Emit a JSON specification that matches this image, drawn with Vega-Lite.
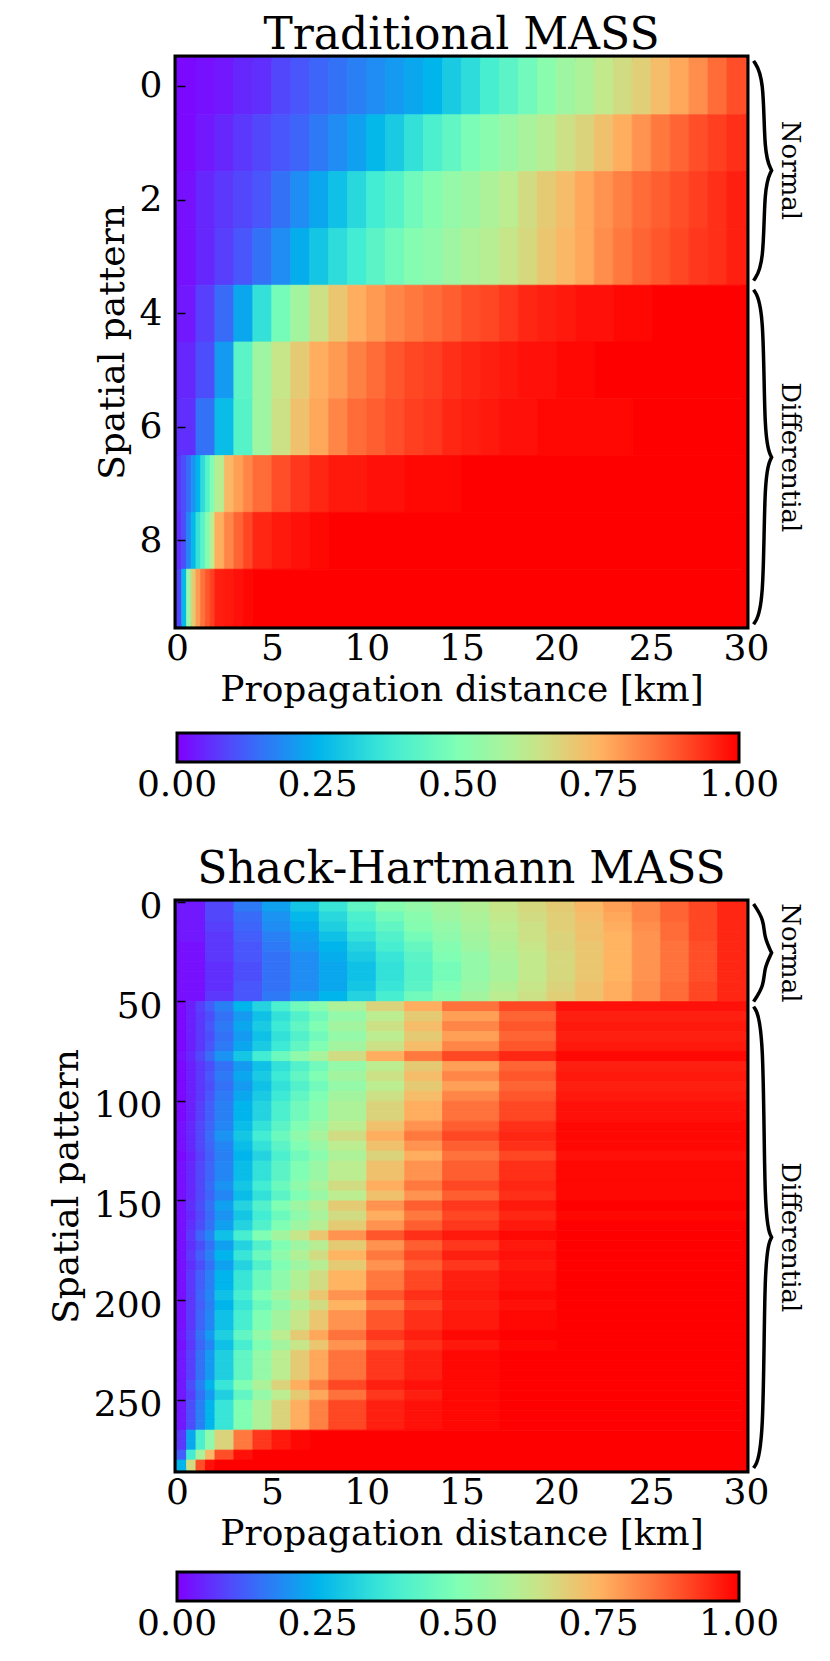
{
  "$schema": "https://vega.github.io/schema/vega-lite/v6.json",
  "background": "white",
  "padding": {"left": 44, "top": 10, "right": 5, "bottom": 5},
  "spacing": 37,
  "config": {
    "font": "DejaVu Serif",
    "view": {"stroke": "black", "strokeWidth": 7},
    "axis": {
      "labelFont": "DejaVu Serif", "labelFontSize": 36, "labelColor": "black",
      "titleFont": "DejaVu Serif", "titleFontSize": 36, "titleFontWeight": "normal", "titleColor": "black",
      "domain": false, "grid": false, "tickColor": "black", "tickWidth": 1.5, "tickSize": -8
    },
    "style": {"guide-title": {"font": "DejaVu Serif", "fontWeight": "normal"}, "guide-label": {"font": "DejaVu Serif"}},
    "title": {"font": "DejaVu Serif", "fontSize": 44, "fontWeight": "normal", "color": "black", "baseline": "alphabetic", "offset": -4}
  },
  "datasets": {
    "trad": [
      {"r":0,"a":0,"b":1,"v":0.01},{"r":0,"a":1,"b":2,"v":0.02},{"r":0,"a":2,"b":3,"v":0.03},{"r":0,"a":3,"b":4,"v":0.05},{"r":0,"a":4,"b":5,"v":0.06},{"r":0,"a":5,"b":6,"v":0.09},{"r":0,"a":6,"b":7,"v":0.11},{"r":0,"a":7,"b":8,"v":0.13},{"r":0,"a":8,"b":9,"v":0.15},{"r":0,"a":9,"b":10,"v":0.17},{"r":0,"a":10,"b":11,"v":0.19},{"r":0,"a":11,"b":12,"v":0.21},{"r":0,"a":12,"b":13,"v":0.23},{"r":0,"a":13,"b":14,"v":0.25},{"r":0,"a":14,"b":15,"v":0.3},{"r":0,"a":15,"b":16,"v":0.34},{"r":0,"a":16,"b":17,"v":0.39},{"r":0,"a":17,"b":18,"v":0.43},{"r":0,"a":18,"b":19,"v":0.47},{"r":0,"a":19,"b":20,"v":0.52},{"r":0,"a":20,"b":21,"v":0.56},{"r":0,"a":21,"b":22,"v":0.59},{"r":0,"a":22,"b":23,"v":0.63},{"r":0,"a":23,"b":24,"v":0.66},{"r":0,"a":24,"b":25,"v":0.69},{"r":0,"a":25,"b":26,"v":0.73},{"r":0,"a":26,"b":27,"v":0.77},{"r":0,"a":27,"b":28,"v":0.81},{"r":0,"a":28,"b":29,"v":0.86},{"r":0,"a":29,"b":30,"v":0.9},
      {"r":1,"a":0,"b":1,"v":0.01},{"r":1,"a":1,"b":2,"v":0.03},{"r":1,"a":2,"b":3,"v":0.05},{"r":1,"a":3,"b":4,"v":0.07},{"r":1,"a":4,"b":5,"v":0.09},{"r":1,"a":5,"b":6,"v":0.11},{"r":1,"a":6,"b":7,"v":0.13},{"r":1,"a":7,"b":8,"v":0.16},{"r":1,"a":8,"b":9,"v":0.19},{"r":1,"a":9,"b":10,"v":0.22},{"r":1,"a":10,"b":11,"v":0.26},{"r":1,"a":11,"b":12,"v":0.3},{"r":1,"a":12,"b":13,"v":0.35},{"r":1,"a":13,"b":14,"v":0.4},{"r":1,"a":14,"b":15,"v":0.44},{"r":1,"a":15,"b":16,"v":0.49},{"r":1,"a":16,"b":17,"v":0.52},{"r":1,"a":17,"b":18,"v":0.55},{"r":1,"a":18,"b":19,"v":0.58},{"r":1,"a":19,"b":20,"v":0.61},{"r":1,"a":20,"b":21,"v":0.65},{"r":1,"a":21,"b":22,"v":0.68},{"r":1,"a":22,"b":23,"v":0.72},{"r":1,"a":23,"b":24,"v":0.76},{"r":1,"a":24,"b":25,"v":0.8},{"r":1,"a":25,"b":26,"v":0.84},{"r":1,"a":26,"b":27,"v":0.87},{"r":1,"a":27,"b":28,"v":0.9},{"r":1,"a":28,"b":29,"v":0.92},{"r":1,"a":29,"b":30,"v":0.94},
      {"r":2,"a":0,"b":1,"v":0.02},{"r":2,"a":1,"b":2,"v":0.05},{"r":2,"a":2,"b":3,"v":0.07},{"r":2,"a":3,"b":4,"v":0.09},{"r":2,"a":4,"b":5,"v":0.11},{"r":2,"a":5,"b":6,"v":0.15},{"r":2,"a":6,"b":7,"v":0.19},{"r":2,"a":7,"b":8,"v":0.23},{"r":2,"a":8,"b":9,"v":0.28},{"r":2,"a":9,"b":10,"v":0.33},{"r":2,"a":10,"b":11,"v":0.38},{"r":2,"a":11,"b":12,"v":0.42},{"r":2,"a":12,"b":13,"v":0.47},{"r":2,"a":13,"b":14,"v":0.51},{"r":2,"a":14,"b":15,"v":0.54},{"r":2,"a":15,"b":16,"v":0.56},{"r":2,"a":16,"b":17,"v":0.59},{"r":2,"a":17,"b":18,"v":0.62},{"r":2,"a":18,"b":19,"v":0.66},{"r":2,"a":19,"b":20,"v":0.7},{"r":2,"a":20,"b":21,"v":0.73},{"r":2,"a":21,"b":22,"v":0.77},{"r":2,"a":22,"b":23,"v":0.8},{"r":2,"a":23,"b":24,"v":0.83},{"r":2,"a":24,"b":25,"v":0.86},{"r":2,"a":25,"b":26,"v":0.88},{"r":2,"a":26,"b":27,"v":0.9},{"r":2,"a":27,"b":28,"v":0.92},{"r":2,"a":28,"b":29,"v":0.94},{"r":2,"a":29,"b":30,"v":0.96},
      {"r":3,"a":0,"b":1,"v":0.02},{"r":3,"a":1,"b":2,"v":0.05},{"r":3,"a":2,"b":3,"v":0.08},{"r":3,"a":3,"b":4,"v":0.11},{"r":3,"a":4,"b":5,"v":0.15},{"r":3,"a":5,"b":6,"v":0.19},{"r":3,"a":6,"b":7,"v":0.24},{"r":3,"a":7,"b":8,"v":0.29},{"r":3,"a":8,"b":9,"v":0.34},{"r":3,"a":9,"b":10,"v":0.38},{"r":3,"a":10,"b":11,"v":0.43},{"r":3,"a":11,"b":12,"v":0.47},{"r":3,"a":12,"b":13,"v":0.51},{"r":3,"a":13,"b":14,"v":0.53},{"r":3,"a":14,"b":15,"v":0.56},{"r":3,"a":15,"b":16,"v":0.59},{"r":3,"a":16,"b":17,"v":0.61},{"r":3,"a":17,"b":18,"v":0.64},{"r":3,"a":18,"b":19,"v":0.67},{"r":3,"a":19,"b":20,"v":0.71},{"r":3,"a":20,"b":21,"v":0.74},{"r":3,"a":21,"b":22,"v":0.77},{"r":3,"a":22,"b":23,"v":0.81},{"r":3,"a":23,"b":24,"v":0.84},{"r":3,"a":24,"b":25,"v":0.87},{"r":3,"a":25,"b":26,"v":0.89},{"r":3,"a":26,"b":27,"v":0.91},{"r":3,"a":27,"b":28,"v":0.93},{"r":3,"a":28,"b":29,"v":0.94},{"r":3,"a":29,"b":30,"v":0.96},
      {"r":4,"a":0,"b":1,"v":0.03},{"r":4,"a":1,"b":2,"v":0.08},{"r":4,"a":2,"b":3,"v":0.14},{"r":4,"a":3,"b":4,"v":0.23},{"r":4,"a":4,"b":5,"v":0.35},{"r":4,"a":5,"b":6,"v":0.48},{"r":4,"a":6,"b":7,"v":0.57},{"r":4,"a":7,"b":8,"v":0.65},{"r":4,"a":8,"b":9,"v":0.71},{"r":4,"a":9,"b":10,"v":0.76},{"r":4,"a":10,"b":11,"v":0.79},{"r":4,"a":11,"b":12,"v":0.82},{"r":4,"a":12,"b":13,"v":0.84},{"r":4,"a":13,"b":14,"v":0.86},{"r":4,"a":14,"b":15,"v":0.88},{"r":4,"a":15,"b":16,"v":0.9},{"r":4,"a":16,"b":17,"v":0.91},{"r":4,"a":17,"b":18,"v":0.93},{"r":4,"a":18,"b":19,"v":0.95},{"r":4,"a":19,"b":20,"v":0.96},{"r":4,"a":20,"b":21,"v":0.97},{"r":4,"a":21,"b":23,"v":0.98},{"r":4,"a":23,"b":25,"v":0.99},{"r":4,"a":25,"b":30,"v":1},
      {"r":5,"a":0,"b":1,"v":0.05},{"r":5,"a":1,"b":2,"v":0.1},{"r":5,"a":2,"b":3,"v":0.21},{"r":5,"a":3,"b":4,"v":0.43},{"r":5,"a":4,"b":5,"v":0.56},{"r":5,"a":5,"b":6,"v":0.64},{"r":5,"a":6,"b":7,"v":0.7},{"r":5,"a":7,"b":8,"v":0.76},{"r":5,"a":8,"b":9,"v":0.79},{"r":5,"a":9,"b":10,"v":0.83},{"r":5,"a":10,"b":11,"v":0.86},{"r":5,"a":11,"b":12,"v":0.89},{"r":5,"a":12,"b":13,"v":0.91},{"r":5,"a":13,"b":14,"v":0.92},{"r":5,"a":14,"b":15,"v":0.94},{"r":5,"a":15,"b":16,"v":0.95},{"r":5,"a":16,"b":17,"v":0.96},{"r":5,"a":17,"b":18,"v":0.97},{"r":5,"a":18,"b":20,"v":0.98},{"r":5,"a":20,"b":22,"v":0.99},{"r":5,"a":22,"b":30,"v":1},
      {"r":6,"a":0,"b":1,"v":0.06},{"r":6,"a":1,"b":2,"v":0.15},{"r":6,"a":2,"b":3,"v":0.27},{"r":6,"a":3,"b":4,"v":0.42},{"r":6,"a":4,"b":5,"v":0.56},{"r":6,"a":5,"b":6,"v":0.65},{"r":6,"a":6,"b":7,"v":0.72},{"r":6,"a":7,"b":8,"v":0.77},{"r":6,"a":8,"b":9,"v":0.82},{"r":6,"a":9,"b":10,"v":0.86},{"r":6,"a":10,"b":11,"v":0.88},{"r":6,"a":11,"b":12,"v":0.9},{"r":6,"a":12,"b":13,"v":0.92},{"r":6,"a":13,"b":14,"v":0.93},{"r":6,"a":14,"b":15,"v":0.95},{"r":6,"a":15,"b":16,"v":0.96},{"r":6,"a":16,"b":17,"v":0.97},{"r":6,"a":17,"b":19,"v":0.98},{"r":6,"a":19,"b":24,"v":0.99},{"r":6,"a":24,"b":30,"v":1},
      {"r":7,"a":0,"b":0.25,"v":0.07},{"r":7,"a":0.25,"b":0.5,"v":0.1},{"r":7,"a":0.5,"b":0.75,"v":0.14},{"r":7,"a":0.75,"b":1,"v":0.2},{"r":7,"a":1,"b":1.25,"v":0.25},{"r":7,"a":1.25,"b":1.5,"v":0.34},{"r":7,"a":1.5,"b":1.75,"v":0.42},{"r":7,"a":1.75,"b":2,"v":0.5},{"r":7,"a":2,"b":2.5,"v":0.61},{"r":7,"a":2.5,"b":3,"v":0.74},{"r":7,"a":3,"b":3.5,"v":0.78},{"r":7,"a":3.5,"b":4,"v":0.82},{"r":7,"a":4,"b":5,"v":0.86},{"r":7,"a":5,"b":6,"v":0.9},{"r":7,"a":6,"b":7,"v":0.93},{"r":7,"a":7,"b":8,"v":0.95},{"r":7,"a":8,"b":10,"v":0.97},{"r":7,"a":10,"b":12,"v":0.98},{"r":7,"a":12,"b":15,"v":0.99},{"r":7,"a":15,"b":30,"v":1},
      {"r":8,"a":0,"b":0.25,"v":0.06},{"r":8,"a":0.25,"b":0.5,"v":0.1},{"r":8,"a":0.5,"b":0.75,"v":0.18},{"r":8,"a":0.75,"b":1,"v":0.26},{"r":8,"a":1,"b":1.25,"v":0.35},{"r":8,"a":1.25,"b":1.5,"v":0.43},{"r":8,"a":1.5,"b":1.75,"v":0.51},{"r":8,"a":1.75,"b":2,"v":0.62},{"r":8,"a":2,"b":2.5,"v":0.76},{"r":8,"a":2.5,"b":3,"v":0.82},{"r":8,"a":3,"b":3.5,"v":0.87},{"r":8,"a":3.5,"b":4,"v":0.91},{"r":8,"a":4,"b":5,"v":0.95},{"r":8,"a":5,"b":6,"v":0.97},{"r":8,"a":6,"b":7,"v":0.98},{"r":8,"a":7,"b":8,"v":0.99},{"r":8,"a":8,"b":30,"v":1},
      {"r":9,"a":0,"b":0.25,"v":0.09},{"r":9,"a":0.25,"b":0.5,"v":0.26},{"r":9,"a":0.5,"b":0.75,"v":0.54},{"r":9,"a":0.75,"b":1,"v":0.7},{"r":9,"a":1,"b":1.25,"v":0.79},{"r":9,"a":1.25,"b":1.5,"v":0.85},{"r":9,"a":1.5,"b":1.75,"v":0.89},{"r":9,"a":1.75,"b":2,"v":0.92},{"r":9,"a":2,"b":2.5,"v":0.96},{"r":9,"a":2.5,"b":3,"v":0.97},{"r":9,"a":3,"b":3.5,"v":0.98},{"r":9,"a":3.5,"b":4,"v":0.99},{"r":9,"a":4,"b":30,"v":1}
    ],
    "sh": [
      {"r":0,"a":0,"b":1.5,"v":0.03},{"r":0,"a":1.5,"b":3,"v":0.09},{"r":0,"a":3,"b":4.5,"v":0.16},{"r":0,"a":4.5,"b":6,"v":0.22},{"r":0,"a":6,"b":7.5,"v":0.29},{"r":0,"a":7.5,"b":9,"v":0.36},{"r":0,"a":9,"b":10.5,"v":0.44},{"r":0,"a":10.5,"b":12,"v":0.51},{"r":0,"a":12,"b":13.5,"v":0.54},{"r":0,"a":13.5,"b":15,"v":0.57},{"r":0,"a":15,"b":16.5,"v":0.6},{"r":0,"a":16.5,"b":18,"v":0.64},{"r":0,"a":18,"b":19.5,"v":0.67},{"r":0,"a":19.5,"b":21,"v":0.7},{"r":0,"a":21,"b":22.5,"v":0.74},{"r":0,"a":22.5,"b":24,"v":0.78},{"r":0,"a":24,"b":25.5,"v":0.82},{"r":0,"a":25.5,"b":27,"v":0.87},{"r":0,"a":27,"b":28.5,"v":0.91},{"r":0,"a":28.5,"b":30,"v":0.95},
      {"r":5,"a":0,"b":1.5,"v":0.03},{"r":5,"a":1.5,"b":3,"v":0.09},{"r":5,"a":3,"b":4.5,"v":0.14},{"r":5,"a":4.5,"b":6,"v":0.2},{"r":5,"a":6,"b":7.5,"v":0.26},{"r":5,"a":7.5,"b":9,"v":0.33},{"r":5,"a":9,"b":10.5,"v":0.4},{"r":5,"a":10.5,"b":12,"v":0.47},{"r":5,"a":12,"b":13.5,"v":0.52},{"r":5,"a":13.5,"b":15,"v":0.56},{"r":5,"a":15,"b":16.5,"v":0.59},{"r":5,"a":16.5,"b":18,"v":0.63},{"r":5,"a":18,"b":19.5,"v":0.66},{"r":5,"a":19.5,"b":21,"v":0.69},{"r":5,"a":21,"b":22.5,"v":0.73},{"r":5,"a":22.5,"b":24,"v":0.77},{"r":5,"a":24,"b":25.5,"v":0.82},{"r":5,"a":25.5,"b":27,"v":0.87},{"r":5,"a":27,"b":28.5,"v":0.91},{"r":5,"a":28.5,"b":30,"v":0.95},
      {"r":10,"a":0,"b":1.5,"v":0.03},{"r":10,"a":1.5,"b":3,"v":0.08},{"r":10,"a":3,"b":4.5,"v":0.13},{"r":10,"a":4.5,"b":6,"v":0.19},{"r":10,"a":6,"b":7.5,"v":0.24},{"r":10,"a":7.5,"b":9,"v":0.31},{"r":10,"a":9,"b":10.5,"v":0.38},{"r":10,"a":10.5,"b":12,"v":0.44},{"r":10,"a":12,"b":13.5,"v":0.51},{"r":10,"a":13.5,"b":15,"v":0.54},{"r":10,"a":15,"b":16.5,"v":0.58},{"r":10,"a":16.5,"b":18,"v":0.62},{"r":10,"a":18,"b":19.5,"v":0.65},{"r":10,"a":19.5,"b":21,"v":0.69},{"r":10,"a":21,"b":22.5,"v":0.72},{"r":10,"a":22.5,"b":24,"v":0.76},{"r":10,"a":24,"b":25.5,"v":0.81},{"r":10,"a":25.5,"b":27,"v":0.86},{"r":10,"a":27,"b":28.5,"v":0.91},{"r":10,"a":28.5,"b":30,"v":0.95},
      {"r":15,"a":0,"b":1.5,"v":0.03},{"r":15,"a":1.5,"b":3,"v":0.07},{"r":15,"a":3,"b":4.5,"v":0.12},{"r":15,"a":4.5,"b":6,"v":0.17},{"r":15,"a":6,"b":7.5,"v":0.22},{"r":15,"a":7.5,"b":9,"v":0.28},{"r":15,"a":9,"b":10.5,"v":0.35},{"r":15,"a":10.5,"b":12,"v":0.41},{"r":15,"a":12,"b":13.5,"v":0.48},{"r":15,"a":13.5,"b":15,"v":0.53},{"r":15,"a":15,"b":16.5,"v":0.57},{"r":15,"a":16.5,"b":18,"v":0.61},{"r":15,"a":18,"b":19.5,"v":0.65},{"r":15,"a":19.5,"b":21,"v":0.68},{"r":15,"a":21,"b":22.5,"v":0.72},{"r":15,"a":22.5,"b":24,"v":0.75},{"r":15,"a":24,"b":25.5,"v":0.8},{"r":15,"a":25.5,"b":27,"v":0.86},{"r":15,"a":27,"b":28.5,"v":0.91},{"r":15,"a":28.5,"b":30,"v":0.95},
      {"r":20,"a":0,"b":1.5,"v":0.02},{"r":20,"a":1.5,"b":3,"v":0.07},{"r":20,"a":3,"b":4.5,"v":0.11},{"r":20,"a":4.5,"b":6,"v":0.16},{"r":20,"a":6,"b":7.5,"v":0.21},{"r":20,"a":7.5,"b":9,"v":0.25},{"r":20,"a":9,"b":10.5,"v":0.32},{"r":20,"a":10.5,"b":12,"v":0.39},{"r":20,"a":12,"b":13.5,"v":0.45},{"r":20,"a":13.5,"b":15,"v":0.51},{"r":20,"a":15,"b":16.5,"v":0.56},{"r":20,"a":16.5,"b":18,"v":0.6},{"r":20,"a":18,"b":19.5,"v":0.64},{"r":20,"a":19.5,"b":21,"v":0.68},{"r":20,"a":21,"b":22.5,"v":0.71},{"r":20,"a":22.5,"b":24,"v":0.75},{"r":20,"a":24,"b":25.5,"v":0.8},{"r":20,"a":25.5,"b":27,"v":0.85},{"r":20,"a":27,"b":28.5,"v":0.9},{"r":20,"a":28.5,"b":30,"v":0.95},
      {"r":25,"a":0,"b":1.5,"v":0.02},{"r":25,"a":1.5,"b":3,"v":0.07},{"r":25,"a":3,"b":4.5,"v":0.11},{"r":25,"a":4.5,"b":6,"v":0.15},{"r":25,"a":6,"b":7.5,"v":0.19},{"r":25,"a":7.5,"b":9,"v":0.24},{"r":25,"a":9,"b":10.5,"v":0.3},{"r":25,"a":10.5,"b":12,"v":0.36},{"r":25,"a":12,"b":13.5,"v":0.43},{"r":25,"a":13.5,"b":15,"v":0.5},{"r":25,"a":15,"b":16.5,"v":0.54},{"r":25,"a":16.5,"b":18,"v":0.59},{"r":25,"a":18,"b":19.5,"v":0.63},{"r":25,"a":19.5,"b":21,"v":0.67},{"r":25,"a":21,"b":22.5,"v":0.71},{"r":25,"a":22.5,"b":24,"v":0.75},{"r":25,"a":24,"b":25.5,"v":0.8},{"r":25,"a":25.5,"b":27,"v":0.85},{"r":25,"a":27,"b":28.5,"v":0.9},{"r":25,"a":28.5,"b":30,"v":0.95},
      {"r":30,"a":0,"b":1.5,"v":0.02},{"r":30,"a":1.5,"b":3,"v":0.06},{"r":30,"a":3,"b":4.5,"v":0.1},{"r":30,"a":4.5,"b":6,"v":0.15},{"r":30,"a":6,"b":7.5,"v":0.19},{"r":30,"a":7.5,"b":9,"v":0.23},{"r":30,"a":9,"b":10.5,"v":0.28},{"r":30,"a":10.5,"b":12,"v":0.35},{"r":30,"a":12,"b":13.5,"v":0.42},{"r":30,"a":13.5,"b":15,"v":0.48},{"r":30,"a":15,"b":16.5,"v":0.54},{"r":30,"a":16.5,"b":18,"v":0.58},{"r":30,"a":18,"b":19.5,"v":0.63},{"r":30,"a":19.5,"b":21,"v":0.67},{"r":30,"a":21,"b":22.5,"v":0.71},{"r":30,"a":22.5,"b":24,"v":0.75},{"r":30,"a":24,"b":25.5,"v":0.8},{"r":30,"a":25.5,"b":27,"v":0.85},{"r":30,"a":27,"b":28.5,"v":0.9},{"r":30,"a":28.5,"b":30,"v":0.95},
      {"r":35,"a":0,"b":1.5,"v":0.02},{"r":35,"a":1.5,"b":3,"v":0.06},{"r":35,"a":3,"b":4.5,"v":0.1},{"r":35,"a":4.5,"b":6,"v":0.15},{"r":35,"a":6,"b":7.5,"v":0.19},{"r":35,"a":7.5,"b":9,"v":0.23},{"r":35,"a":9,"b":10.5,"v":0.28},{"r":35,"a":10.5,"b":12,"v":0.35},{"r":35,"a":12,"b":13.5,"v":0.42},{"r":35,"a":13.5,"b":15,"v":0.48},{"r":35,"a":15,"b":16.5,"v":0.54},{"r":35,"a":16.5,"b":18,"v":0.58},{"r":35,"a":18,"b":19.5,"v":0.63},{"r":35,"a":19.5,"b":21,"v":0.67},{"r":35,"a":21,"b":22.5,"v":0.71},{"r":35,"a":22.5,"b":24,"v":0.75},{"r":35,"a":24,"b":25.5,"v":0.8},{"r":35,"a":25.5,"b":27,"v":0.85},{"r":35,"a":27,"b":28.5,"v":0.9},{"r":35,"a":28.5,"b":30,"v":0.95},
      {"r":40,"a":0,"b":1.5,"v":0.02},{"r":40,"a":1.5,"b":3,"v":0.06},{"r":40,"a":3,"b":4.5,"v":0.11},{"r":40,"a":4.5,"b":6,"v":0.15},{"r":40,"a":6,"b":7.5,"v":0.19},{"r":40,"a":7.5,"b":9,"v":0.23},{"r":40,"a":9,"b":10.5,"v":0.29},{"r":40,"a":10.5,"b":12,"v":0.36},{"r":40,"a":12,"b":13.5,"v":0.43},{"r":40,"a":13.5,"b":15,"v":0.5},{"r":40,"a":15,"b":16.5,"v":0.55},{"r":40,"a":16.5,"b":18,"v":0.6},{"r":40,"a":18,"b":19.5,"v":0.64},{"r":40,"a":19.5,"b":21,"v":0.68},{"r":40,"a":21,"b":22.5,"v":0.72},{"r":40,"a":22.5,"b":24,"v":0.76},{"r":40,"a":24,"b":25.5,"v":0.81},{"r":40,"a":25.5,"b":27,"v":0.86},{"r":40,"a":27,"b":28.5,"v":0.91},{"r":40,"a":28.5,"b":30,"v":0.95},
      {"r":45,"a":0,"b":1.5,"v":0.02},{"r":45,"a":1.5,"b":3,"v":0.07},{"r":45,"a":3,"b":4.5,"v":0.11},{"r":45,"a":4.5,"b":6,"v":0.16},{"r":45,"a":6,"b":7.5,"v":0.21},{"r":45,"a":7.5,"b":9,"v":0.25},{"r":45,"a":9,"b":10.5,"v":0.32},{"r":45,"a":10.5,"b":12,"v":0.39},{"r":45,"a":12,"b":13.5,"v":0.47},{"r":45,"a":13.5,"b":15,"v":0.52},{"r":45,"a":15,"b":16.5,"v":0.57},{"r":45,"a":16.5,"b":18,"v":0.62},{"r":45,"a":18,"b":19.5,"v":0.65},{"r":45,"a":19.5,"b":21,"v":0.69},{"r":45,"a":21,"b":22.5,"v":0.72},{"r":45,"a":22.5,"b":24,"v":0.76},{"r":45,"a":24,"b":25.5,"v":0.81},{"r":45,"a":25.5,"b":27,"v":0.86},{"r":45,"a":27,"b":28.5,"v":0.91},{"r":45,"a":28.5,"b":30,"v":0.95},
      {"r":50,"a":0,"b":0.5,"v":0.01},{"r":50,"a":0.5,"b":1,"v":0.04},{"r":50,"a":1,"b":1.5,"v":0.08},{"r":50,"a":1.5,"b":2,"v":0.12},{"r":50,"a":2,"b":3,"v":0.17},{"r":50,"a":3,"b":4,"v":0.25},{"r":50,"a":4,"b":5,"v":0.32},{"r":50,"a":5,"b":6,"v":0.4},{"r":50,"a":6,"b":7,"v":0.47},{"r":50,"a":7,"b":8,"v":0.52},{"r":50,"a":8,"b":10,"v":0.59},{"r":50,"a":10,"b":12,"v":0.68},{"r":50,"a":12,"b":14,"v":0.76},{"r":50,"a":14,"b":17,"v":0.85},{"r":50,"a":17,"b":20,"v":0.91},{"r":50,"a":20,"b":30,"v":0.98},
      {"r":55,"a":0,"b":0.5,"v":0.01},{"r":55,"a":0.5,"b":1,"v":0.04},{"r":55,"a":1,"b":1.5,"v":0.07},{"r":55,"a":1.5,"b":2,"v":0.1},{"r":55,"a":2,"b":3,"v":0.15},{"r":55,"a":3,"b":4,"v":0.21},{"r":55,"a":4,"b":5,"v":0.28},{"r":55,"a":5,"b":6,"v":0.35},{"r":55,"a":6,"b":7,"v":0.41},{"r":55,"a":7,"b":8,"v":0.47},{"r":55,"a":8,"b":10,"v":0.54},{"r":55,"a":10,"b":12,"v":0.62},{"r":55,"a":12,"b":14,"v":0.7},{"r":55,"a":14,"b":17,"v":0.78},{"r":55,"a":17,"b":20,"v":0.87},{"r":55,"a":20,"b":30,"v":0.96},
      {"r":60,"a":0,"b":0.5,"v":0.01},{"r":60,"a":0.5,"b":1,"v":0.04},{"r":60,"a":1,"b":1.5,"v":0.07},{"r":60,"a":1.5,"b":2,"v":0.11},{"r":60,"a":2,"b":3,"v":0.16},{"r":60,"a":3,"b":4,"v":0.23},{"r":60,"a":4,"b":5,"v":0.3},{"r":60,"a":5,"b":6,"v":0.37},{"r":60,"a":6,"b":7,"v":0.44},{"r":60,"a":7,"b":8,"v":0.5},{"r":60,"a":8,"b":10,"v":0.57},{"r":60,"a":10,"b":12,"v":0.65},{"r":60,"a":12,"b":14,"v":0.73},{"r":60,"a":14,"b":17,"v":0.82},{"r":60,"a":17,"b":20,"v":0.89},{"r":60,"a":20,"b":30,"v":0.97},
      {"r":65,"a":0,"b":0.5,"v":0.01},{"r":65,"a":0.5,"b":1,"v":0.04},{"r":65,"a":1,"b":1.5,"v":0.07},{"r":65,"a":1.5,"b":2,"v":0.1},{"r":65,"a":2,"b":3,"v":0.15},{"r":65,"a":3,"b":4,"v":0.21},{"r":65,"a":4,"b":5,"v":0.28},{"r":65,"a":5,"b":6,"v":0.35},{"r":65,"a":6,"b":7,"v":0.41},{"r":65,"a":7,"b":8,"v":0.47},{"r":65,"a":8,"b":10,"v":0.54},{"r":65,"a":10,"b":12,"v":0.62},{"r":65,"a":12,"b":14,"v":0.7},{"r":65,"a":14,"b":17,"v":0.78},{"r":65,"a":17,"b":20,"v":0.87},{"r":65,"a":20,"b":30,"v":0.96},
      {"r":70,"a":0,"b":0.5,"v":0.01},{"r":70,"a":0.5,"b":1,"v":0.04},{"r":70,"a":1,"b":1.5,"v":0.07},{"r":70,"a":1.5,"b":2,"v":0.11},{"r":70,"a":2,"b":3,"v":0.16},{"r":70,"a":3,"b":4,"v":0.23},{"r":70,"a":4,"b":5,"v":0.3},{"r":70,"a":5,"b":6,"v":0.37},{"r":70,"a":6,"b":7,"v":0.44},{"r":70,"a":7,"b":8,"v":0.5},{"r":70,"a":8,"b":10,"v":0.57},{"r":70,"a":10,"b":12,"v":0.65},{"r":70,"a":12,"b":14,"v":0.73},{"r":70,"a":14,"b":17,"v":0.82},{"r":70,"a":17,"b":20,"v":0.89},{"r":70,"a":20,"b":30,"v":0.97},
      {"r":75,"a":0,"b":0.5,"v":0.02},{"r":75,"a":0.5,"b":1,"v":0.05},{"r":75,"a":1,"b":1.5,"v":0.09},{"r":75,"a":1.5,"b":2,"v":0.14},{"r":75,"a":2,"b":3,"v":0.2},{"r":75,"a":3,"b":4,"v":0.29},{"r":75,"a":4,"b":5,"v":0.38},{"r":75,"a":5,"b":6,"v":0.46},{"r":75,"a":6,"b":7,"v":0.53},{"r":75,"a":7,"b":8,"v":0.58},{"r":75,"a":8,"b":10,"v":0.66},{"r":75,"a":10,"b":12,"v":0.76},{"r":75,"a":12,"b":14,"v":0.84},{"r":75,"a":14,"b":17,"v":0.91},{"r":75,"a":17,"b":20,"v":0.95},{"r":75,"a":20,"b":30,"v":0.99},
      {"r":80,"a":0,"b":0.5,"v":0.01},{"r":80,"a":0.5,"b":1,"v":0.04},{"r":80,"a":1,"b":1.5,"v":0.07},{"r":80,"a":1.5,"b":2,"v":0.1},{"r":80,"a":2,"b":3,"v":0.15},{"r":80,"a":3,"b":4,"v":0.21},{"r":80,"a":4,"b":5,"v":0.28},{"r":80,"a":5,"b":6,"v":0.35},{"r":80,"a":6,"b":7,"v":0.41},{"r":80,"a":7,"b":8,"v":0.47},{"r":80,"a":8,"b":10,"v":0.54},{"r":80,"a":10,"b":12,"v":0.62},{"r":80,"a":12,"b":14,"v":0.7},{"r":80,"a":14,"b":17,"v":0.78},{"r":80,"a":17,"b":20,"v":0.87},{"r":80,"a":20,"b":30,"v":0.96},
      {"r":85,"a":0,"b":0.5,"v":0.01},{"r":85,"a":0.5,"b":1,"v":0.04},{"r":85,"a":1,"b":1.5,"v":0.07},{"r":85,"a":1.5,"b":2,"v":0.11},{"r":85,"a":2,"b":3,"v":0.16},{"r":85,"a":3,"b":4,"v":0.23},{"r":85,"a":4,"b":5,"v":0.3},{"r":85,"a":5,"b":6,"v":0.37},{"r":85,"a":6,"b":7,"v":0.44},{"r":85,"a":7,"b":8,"v":0.5},{"r":85,"a":8,"b":10,"v":0.57},{"r":85,"a":10,"b":12,"v":0.65},{"r":85,"a":12,"b":14,"v":0.73},{"r":85,"a":14,"b":17,"v":0.82},{"r":85,"a":17,"b":20,"v":0.89},{"r":85,"a":20,"b":30,"v":0.97},
      {"r":90,"a":0,"b":0.5,"v":0.01},{"r":90,"a":0.5,"b":1,"v":0.04},{"r":90,"a":1,"b":1.5,"v":0.07},{"r":90,"a":1.5,"b":2,"v":0.1},{"r":90,"a":2,"b":3,"v":0.15},{"r":90,"a":3,"b":4,"v":0.21},{"r":90,"a":4,"b":5,"v":0.28},{"r":90,"a":5,"b":6,"v":0.35},{"r":90,"a":6,"b":7,"v":0.41},{"r":90,"a":7,"b":8,"v":0.47},{"r":90,"a":8,"b":10,"v":0.54},{"r":90,"a":10,"b":12,"v":0.62},{"r":90,"a":12,"b":14,"v":0.7},{"r":90,"a":14,"b":17,"v":0.78},{"r":90,"a":17,"b":20,"v":0.87},{"r":90,"a":20,"b":30,"v":0.96},
      {"r":95,"a":0,"b":0.5,"v":0.01},{"r":95,"a":0.5,"b":1,"v":0.04},{"r":95,"a":1,"b":1.5,"v":0.07},{"r":95,"a":1.5,"b":2,"v":0.11},{"r":95,"a":2,"b":3,"v":0.16},{"r":95,"a":3,"b":4,"v":0.23},{"r":95,"a":4,"b":5,"v":0.3},{"r":95,"a":5,"b":6,"v":0.37},{"r":95,"a":6,"b":7,"v":0.44},{"r":95,"a":7,"b":8,"v":0.5},{"r":95,"a":8,"b":10,"v":0.57},{"r":95,"a":10,"b":12,"v":0.65},{"r":95,"a":12,"b":14,"v":0.73},{"r":95,"a":14,"b":17,"v":0.82},{"r":95,"a":17,"b":20,"v":0.89},{"r":95,"a":20,"b":30,"v":0.97},
      {"r":100,"a":0,"b":0.5,"v":0.01},{"r":100,"a":0.5,"b":1,"v":0.04},{"r":100,"a":1,"b":1.5,"v":0.08},{"r":100,"a":1.5,"b":2,"v":0.12},{"r":100,"a":2,"b":3,"v":0.17},{"r":100,"a":3,"b":4,"v":0.25},{"r":100,"a":4,"b":5,"v":0.32},{"r":100,"a":5,"b":6,"v":0.4},{"r":100,"a":6,"b":7,"v":0.47},{"r":100,"a":7,"b":8,"v":0.52},{"r":100,"a":8,"b":10,"v":0.59},{"r":100,"a":10,"b":12,"v":0.68},{"r":100,"a":12,"b":14,"v":0.76},{"r":100,"a":14,"b":17,"v":0.85},{"r":100,"a":17,"b":20,"v":0.91},{"r":100,"a":20,"b":30,"v":0.98},
      {"r":105,"a":0,"b":0.5,"v":0.01},{"r":105,"a":0.5,"b":1,"v":0.04},{"r":105,"a":1,"b":1.5,"v":0.08},{"r":105,"a":1.5,"b":2,"v":0.12},{"r":105,"a":2,"b":3,"v":0.17},{"r":105,"a":3,"b":4,"v":0.25},{"r":105,"a":4,"b":5,"v":0.32},{"r":105,"a":5,"b":6,"v":0.4},{"r":105,"a":6,"b":7,"v":0.47},{"r":105,"a":7,"b":8,"v":0.52},{"r":105,"a":8,"b":10,"v":0.59},{"r":105,"a":10,"b":12,"v":0.68},{"r":105,"a":12,"b":14,"v":0.76},{"r":105,"a":14,"b":17,"v":0.85},{"r":105,"a":17,"b":20,"v":0.91},{"r":105,"a":20,"b":30,"v":0.98},
      {"r":110,"a":0,"b":0.5,"v":0.02},{"r":110,"a":0.5,"b":1,"v":0.05},{"r":110,"a":1,"b":1.5,"v":0.09},{"r":110,"a":1.5,"b":2,"v":0.13},{"r":110,"a":2,"b":3,"v":0.18},{"r":110,"a":3,"b":4,"v":0.27},{"r":110,"a":4,"b":5,"v":0.35},{"r":110,"a":5,"b":6,"v":0.43},{"r":110,"a":6,"b":7,"v":0.5},{"r":110,"a":7,"b":8,"v":0.55},{"r":110,"a":8,"b":10,"v":0.62},{"r":110,"a":10,"b":12,"v":0.72},{"r":110,"a":12,"b":14,"v":0.8},{"r":110,"a":14,"b":17,"v":0.88},{"r":110,"a":17,"b":20,"v":0.94},{"r":110,"a":20,"b":30,"v":0.99},
      {"r":115,"a":0,"b":0.5,"v":0.02},{"r":115,"a":0.5,"b":1,"v":0.05},{"r":115,"a":1,"b":1.5,"v":0.09},{"r":115,"a":1.5,"b":2,"v":0.14},{"r":115,"a":2,"b":3,"v":0.2},{"r":115,"a":3,"b":4,"v":0.29},{"r":115,"a":4,"b":5,"v":0.38},{"r":115,"a":5,"b":6,"v":0.46},{"r":115,"a":6,"b":7,"v":0.53},{"r":115,"a":7,"b":8,"v":0.58},{"r":115,"a":8,"b":10,"v":0.66},{"r":115,"a":10,"b":12,"v":0.76},{"r":115,"a":12,"b":14,"v":0.84},{"r":115,"a":14,"b":17,"v":0.91},{"r":115,"a":17,"b":20,"v":0.95},{"r":115,"a":20,"b":30,"v":0.99},
      {"r":120,"a":0,"b":0.5,"v":0.02},{"r":120,"a":0.5,"b":1,"v":0.05},{"r":120,"a":1,"b":1.5,"v":0.09},{"r":120,"a":1.5,"b":2,"v":0.13},{"r":120,"a":2,"b":3,"v":0.18},{"r":120,"a":3,"b":4,"v":0.27},{"r":120,"a":4,"b":5,"v":0.35},{"r":120,"a":5,"b":6,"v":0.43},{"r":120,"a":6,"b":7,"v":0.5},{"r":120,"a":7,"b":8,"v":0.55},{"r":120,"a":8,"b":10,"v":0.62},{"r":120,"a":10,"b":12,"v":0.72},{"r":120,"a":12,"b":14,"v":0.8},{"r":120,"a":14,"b":17,"v":0.88},{"r":120,"a":17,"b":20,"v":0.94},{"r":120,"a":20,"b":30,"v":0.99},
      {"r":125,"a":0,"b":0.5,"v":0.01},{"r":125,"a":0.5,"b":1,"v":0.04},{"r":125,"a":1,"b":1.5,"v":0.08},{"r":125,"a":1.5,"b":2,"v":0.12},{"r":125,"a":2,"b":3,"v":0.17},{"r":125,"a":3,"b":4,"v":0.25},{"r":125,"a":4,"b":5,"v":0.32},{"r":125,"a":5,"b":6,"v":0.4},{"r":125,"a":6,"b":7,"v":0.47},{"r":125,"a":7,"b":8,"v":0.52},{"r":125,"a":8,"b":10,"v":0.59},{"r":125,"a":10,"b":12,"v":0.68},{"r":125,"a":12,"b":14,"v":0.76},{"r":125,"a":14,"b":17,"v":0.85},{"r":125,"a":17,"b":20,"v":0.91},{"r":125,"a":20,"b":30,"v":0.98},
      {"r":130,"a":0,"b":0.5,"v":0.02},{"r":130,"a":0.5,"b":1,"v":0.05},{"r":130,"a":1,"b":1.5,"v":0.09},{"r":130,"a":1.5,"b":2,"v":0.13},{"r":130,"a":2,"b":3,"v":0.18},{"r":130,"a":3,"b":4,"v":0.27},{"r":130,"a":4,"b":5,"v":0.35},{"r":130,"a":5,"b":6,"v":0.43},{"r":130,"a":6,"b":7,"v":0.5},{"r":130,"a":7,"b":8,"v":0.55},{"r":130,"a":8,"b":10,"v":0.62},{"r":130,"a":10,"b":12,"v":0.72},{"r":130,"a":12,"b":14,"v":0.8},{"r":130,"a":14,"b":17,"v":0.88},{"r":130,"a":17,"b":20,"v":0.94},{"r":130,"a":20,"b":30,"v":0.99},
      {"r":135,"a":0,"b":0.5,"v":0.02},{"r":135,"a":0.5,"b":1,"v":0.05},{"r":135,"a":1,"b":1.5,"v":0.09},{"r":135,"a":1.5,"b":2,"v":0.13},{"r":135,"a":2,"b":3,"v":0.18},{"r":135,"a":3,"b":4,"v":0.27},{"r":135,"a":4,"b":5,"v":0.35},{"r":135,"a":5,"b":6,"v":0.43},{"r":135,"a":6,"b":7,"v":0.5},{"r":135,"a":7,"b":8,"v":0.55},{"r":135,"a":8,"b":10,"v":0.62},{"r":135,"a":10,"b":12,"v":0.72},{"r":135,"a":12,"b":14,"v":0.8},{"r":135,"a":14,"b":17,"v":0.88},{"r":135,"a":17,"b":20,"v":0.94},{"r":135,"a":20,"b":30,"v":0.99},
      {"r":140,"a":0,"b":0.5,"v":0.02},{"r":140,"a":0.5,"b":1,"v":0.05},{"r":140,"a":1,"b":1.5,"v":0.09},{"r":140,"a":1.5,"b":2,"v":0.14},{"r":140,"a":2,"b":3,"v":0.2},{"r":140,"a":3,"b":4,"v":0.29},{"r":140,"a":4,"b":5,"v":0.38},{"r":140,"a":5,"b":6,"v":0.46},{"r":140,"a":6,"b":7,"v":0.53},{"r":140,"a":7,"b":8,"v":0.58},{"r":140,"a":8,"b":10,"v":0.66},{"r":140,"a":10,"b":12,"v":0.76},{"r":140,"a":12,"b":14,"v":0.84},{"r":140,"a":14,"b":17,"v":0.91},{"r":140,"a":17,"b":20,"v":0.95},{"r":140,"a":20,"b":30,"v":0.99},
      {"r":145,"a":0,"b":0.5,"v":0.02},{"r":145,"a":0.5,"b":1,"v":0.05},{"r":145,"a":1,"b":1.5,"v":0.09},{"r":145,"a":1.5,"b":2,"v":0.13},{"r":145,"a":2,"b":3,"v":0.18},{"r":145,"a":3,"b":4,"v":0.27},{"r":145,"a":4,"b":5,"v":0.35},{"r":145,"a":5,"b":6,"v":0.43},{"r":145,"a":6,"b":7,"v":0.5},{"r":145,"a":7,"b":8,"v":0.55},{"r":145,"a":8,"b":10,"v":0.62},{"r":145,"a":10,"b":12,"v":0.72},{"r":145,"a":12,"b":14,"v":0.8},{"r":145,"a":14,"b":17,"v":0.88},{"r":145,"a":17,"b":20,"v":0.94},{"r":145,"a":20,"b":30,"v":0.99},
      {"r":150,"a":0,"b":0.5,"v":0.02},{"r":150,"a":0.5,"b":1,"v":0.06},{"r":150,"a":1,"b":1.5,"v":0.1},{"r":150,"a":1.5,"b":2,"v":0.15},{"r":150,"a":2,"b":3,"v":0.22},{"r":150,"a":3,"b":4,"v":0.32},{"r":150,"a":4,"b":5,"v":0.41},{"r":150,"a":5,"b":6,"v":0.5},{"r":150,"a":6,"b":7,"v":0.56},{"r":150,"a":7,"b":8,"v":0.61},{"r":150,"a":8,"b":10,"v":0.7},{"r":150,"a":10,"b":12,"v":0.8},{"r":150,"a":12,"b":14,"v":0.88},{"r":150,"a":14,"b":17,"v":0.93},{"r":150,"a":17,"b":20,"v":0.97},{"r":150,"a":20,"b":30,"v":1},
      {"r":155,"a":0,"b":0.5,"v":0.02},{"r":155,"a":0.5,"b":1,"v":0.05},{"r":155,"a":1,"b":1.5,"v":0.09},{"r":155,"a":1.5,"b":2,"v":0.14},{"r":155,"a":2,"b":3,"v":0.2},{"r":155,"a":3,"b":4,"v":0.29},{"r":155,"a":4,"b":5,"v":0.38},{"r":155,"a":5,"b":6,"v":0.46},{"r":155,"a":6,"b":7,"v":0.53},{"r":155,"a":7,"b":8,"v":0.58},{"r":155,"a":8,"b":10,"v":0.66},{"r":155,"a":10,"b":12,"v":0.76},{"r":155,"a":12,"b":14,"v":0.84},{"r":155,"a":14,"b":17,"v":0.91},{"r":155,"a":17,"b":20,"v":0.95},{"r":155,"a":20,"b":30,"v":0.99},
      {"r":160,"a":0,"b":0.5,"v":0.02},{"r":160,"a":0.5,"b":1,"v":0.06},{"r":160,"a":1,"b":1.5,"v":0.1},{"r":160,"a":1.5,"b":2,"v":0.15},{"r":160,"a":2,"b":3,"v":0.22},{"r":160,"a":3,"b":4,"v":0.32},{"r":160,"a":4,"b":5,"v":0.41},{"r":160,"a":5,"b":6,"v":0.5},{"r":160,"a":6,"b":7,"v":0.56},{"r":160,"a":7,"b":8,"v":0.61},{"r":160,"a":8,"b":10,"v":0.7},{"r":160,"a":10,"b":12,"v":0.8},{"r":160,"a":12,"b":14,"v":0.88},{"r":160,"a":14,"b":17,"v":0.93},{"r":160,"a":17,"b":20,"v":0.97},{"r":160,"a":20,"b":30,"v":1},
      {"r":165,"a":0,"b":0.5,"v":0.02},{"r":165,"a":0.5,"b":1,"v":0.07},{"r":165,"a":1,"b":1.5,"v":0.13},{"r":165,"a":1.5,"b":2,"v":0.18},{"r":165,"a":2,"b":3,"v":0.28},{"r":165,"a":3,"b":4,"v":0.39},{"r":165,"a":4,"b":5,"v":0.5},{"r":165,"a":5,"b":6,"v":0.57},{"r":165,"a":6,"b":7,"v":0.64},{"r":165,"a":7,"b":8,"v":0.71},{"r":165,"a":8,"b":10,"v":0.8},{"r":165,"a":10,"b":12,"v":0.89},{"r":165,"a":12,"b":14,"v":0.94},{"r":165,"a":14,"b":17,"v":0.97},{"r":165,"a":17,"b":20,"v":0.99},{"r":165,"a":20,"b":30,"v":1},
      {"r":170,"a":0,"b":0.5,"v":0.02},{"r":170,"a":0.5,"b":1,"v":0.06},{"r":170,"a":1,"b":1.5,"v":0.1},{"r":170,"a":1.5,"b":2,"v":0.15},{"r":170,"a":2,"b":3,"v":0.22},{"r":170,"a":3,"b":4,"v":0.32},{"r":170,"a":4,"b":5,"v":0.41},{"r":170,"a":5,"b":6,"v":0.5},{"r":170,"a":6,"b":7,"v":0.56},{"r":170,"a":7,"b":8,"v":0.61},{"r":170,"a":8,"b":10,"v":0.7},{"r":170,"a":10,"b":12,"v":0.8},{"r":170,"a":12,"b":14,"v":0.88},{"r":170,"a":14,"b":17,"v":0.93},{"r":170,"a":17,"b":20,"v":0.97},{"r":170,"a":20,"b":30,"v":1},
      {"r":175,"a":0,"b":0.5,"v":0.02},{"r":175,"a":0.5,"b":1,"v":0.07},{"r":175,"a":1,"b":1.5,"v":0.12},{"r":175,"a":1.5,"b":2,"v":0.17},{"r":175,"a":2,"b":3,"v":0.25},{"r":175,"a":3,"b":4,"v":0.36},{"r":175,"a":4,"b":5,"v":0.46},{"r":175,"a":5,"b":6,"v":0.53},{"r":175,"a":6,"b":7,"v":0.6},{"r":175,"a":7,"b":8,"v":0.66},{"r":175,"a":8,"b":10,"v":0.75},{"r":175,"a":10,"b":12,"v":0.84},{"r":175,"a":12,"b":14,"v":0.91},{"r":175,"a":14,"b":17,"v":0.96},{"r":175,"a":17,"b":20,"v":0.98},{"r":175,"a":20,"b":30,"v":1},
      {"r":180,"a":0,"b":0.5,"v":0.02},{"r":180,"a":0.5,"b":1,"v":0.06},{"r":180,"a":1,"b":1.5,"v":0.1},{"r":180,"a":1.5,"b":2,"v":0.15},{"r":180,"a":2,"b":3,"v":0.22},{"r":180,"a":3,"b":4,"v":0.32},{"r":180,"a":4,"b":5,"v":0.41},{"r":180,"a":5,"b":6,"v":0.5},{"r":180,"a":6,"b":7,"v":0.56},{"r":180,"a":7,"b":8,"v":0.61},{"r":180,"a":8,"b":10,"v":0.7},{"r":180,"a":10,"b":12,"v":0.8},{"r":180,"a":12,"b":14,"v":0.88},{"r":180,"a":14,"b":17,"v":0.93},{"r":180,"a":17,"b":20,"v":0.97},{"r":180,"a":20,"b":30,"v":1},
      {"r":185,"a":0,"b":0.5,"v":0.02},{"r":185,"a":0.5,"b":1,"v":0.07},{"r":185,"a":1,"b":1.5,"v":0.12},{"r":185,"a":1.5,"b":2,"v":0.17},{"r":185,"a":2,"b":3,"v":0.25},{"r":185,"a":3,"b":4,"v":0.36},{"r":185,"a":4,"b":5,"v":0.46},{"r":185,"a":5,"b":6,"v":0.53},{"r":185,"a":6,"b":7,"v":0.6},{"r":185,"a":7,"b":8,"v":0.66},{"r":185,"a":8,"b":10,"v":0.75},{"r":185,"a":10,"b":12,"v":0.84},{"r":185,"a":12,"b":14,"v":0.91},{"r":185,"a":14,"b":17,"v":0.96},{"r":185,"a":17,"b":20,"v":0.98},{"r":185,"a":20,"b":30,"v":1},
      {"r":190,"a":0,"b":0.5,"v":0.02},{"r":190,"a":0.5,"b":1,"v":0.07},{"r":190,"a":1,"b":1.5,"v":0.12},{"r":190,"a":1.5,"b":2,"v":0.17},{"r":190,"a":2,"b":3,"v":0.25},{"r":190,"a":3,"b":4,"v":0.36},{"r":190,"a":4,"b":5,"v":0.46},{"r":190,"a":5,"b":6,"v":0.53},{"r":190,"a":6,"b":7,"v":0.6},{"r":190,"a":7,"b":8,"v":0.66},{"r":190,"a":8,"b":10,"v":0.75},{"r":190,"a":10,"b":12,"v":0.84},{"r":190,"a":12,"b":14,"v":0.91},{"r":190,"a":14,"b":17,"v":0.96},{"r":190,"a":17,"b":20,"v":0.98},{"r":190,"a":20,"b":30,"v":1},
      {"r":195,"a":0,"b":0.5,"v":0.02},{"r":195,"a":0.5,"b":1,"v":0.07},{"r":195,"a":1,"b":1.5,"v":0.13},{"r":195,"a":1.5,"b":2,"v":0.18},{"r":195,"a":2,"b":3,"v":0.28},{"r":195,"a":3,"b":4,"v":0.39},{"r":195,"a":4,"b":5,"v":0.5},{"r":195,"a":5,"b":6,"v":0.57},{"r":195,"a":6,"b":7,"v":0.64},{"r":195,"a":7,"b":8,"v":0.71},{"r":195,"a":8,"b":10,"v":0.8},{"r":195,"a":10,"b":12,"v":0.89},{"r":195,"a":12,"b":14,"v":0.94},{"r":195,"a":14,"b":17,"v":0.97},{"r":195,"a":17,"b":20,"v":0.99},{"r":195,"a":20,"b":30,"v":1},
      {"r":200,"a":0,"b":0.5,"v":0.02},{"r":200,"a":0.5,"b":1,"v":0.07},{"r":200,"a":1,"b":1.5,"v":0.12},{"r":200,"a":1.5,"b":2,"v":0.17},{"r":200,"a":2,"b":3,"v":0.25},{"r":200,"a":3,"b":4,"v":0.36},{"r":200,"a":4,"b":5,"v":0.46},{"r":200,"a":5,"b":6,"v":0.53},{"r":200,"a":6,"b":7,"v":0.6},{"r":200,"a":7,"b":8,"v":0.66},{"r":200,"a":8,"b":10,"v":0.75},{"r":200,"a":10,"b":12,"v":0.84},{"r":200,"a":12,"b":14,"v":0.91},{"r":200,"a":14,"b":17,"v":0.96},{"r":200,"a":17,"b":20,"v":0.98},{"r":200,"a":20,"b":30,"v":1},
      {"r":205,"a":0,"b":0.5,"v":0.02},{"r":205,"a":0.5,"b":1,"v":0.07},{"r":205,"a":1,"b":1.5,"v":0.13},{"r":205,"a":1.5,"b":2,"v":0.18},{"r":205,"a":2,"b":3,"v":0.28},{"r":205,"a":3,"b":4,"v":0.39},{"r":205,"a":4,"b":5,"v":0.5},{"r":205,"a":5,"b":6,"v":0.57},{"r":205,"a":6,"b":7,"v":0.64},{"r":205,"a":7,"b":8,"v":0.71},{"r":205,"a":8,"b":10,"v":0.8},{"r":205,"a":10,"b":12,"v":0.89},{"r":205,"a":12,"b":14,"v":0.94},{"r":205,"a":14,"b":17,"v":0.97},{"r":205,"a":17,"b":20,"v":0.99},{"r":205,"a":20,"b":30,"v":1},
      {"r":210,"a":0,"b":0.5,"v":0.02},{"r":210,"a":0.5,"b":1,"v":0.07},{"r":210,"a":1,"b":1.5,"v":0.13},{"r":210,"a":1.5,"b":2,"v":0.18},{"r":210,"a":2,"b":3,"v":0.28},{"r":210,"a":3,"b":4,"v":0.39},{"r":210,"a":4,"b":5,"v":0.5},{"r":210,"a":5,"b":6,"v":0.57},{"r":210,"a":6,"b":7,"v":0.64},{"r":210,"a":7,"b":8,"v":0.71},{"r":210,"a":8,"b":10,"v":0.8},{"r":210,"a":10,"b":12,"v":0.89},{"r":210,"a":12,"b":14,"v":0.94},{"r":210,"a":14,"b":17,"v":0.97},{"r":210,"a":17,"b":20,"v":0.99},{"r":210,"a":20,"b":30,"v":1},
      {"r":215,"a":0,"b":0.5,"v":0.03},{"r":215,"a":0.5,"b":1,"v":0.08},{"r":215,"a":1,"b":1.5,"v":0.15},{"r":215,"a":1.5,"b":2,"v":0.21},{"r":215,"a":2,"b":3,"v":0.31},{"r":215,"a":3,"b":4,"v":0.44},{"r":215,"a":4,"b":5,"v":0.54},{"r":215,"a":5,"b":6,"v":0.62},{"r":215,"a":6,"b":7,"v":0.7},{"r":215,"a":7,"b":8,"v":0.77},{"r":215,"a":8,"b":10,"v":0.85},{"r":215,"a":10,"b":12,"v":0.93},{"r":215,"a":12,"b":14,"v":0.96},{"r":215,"a":14,"b":17,"v":0.99},{"r":215,"a":17,"b":30,"v":1},
      {"r":220,"a":0,"b":0.5,"v":0.02},{"r":220,"a":0.5,"b":1,"v":0.07},{"r":220,"a":1,"b":1.5,"v":0.13},{"r":220,"a":1.5,"b":2,"v":0.18},{"r":220,"a":2,"b":3,"v":0.28},{"r":220,"a":3,"b":4,"v":0.39},{"r":220,"a":4,"b":5,"v":0.5},{"r":220,"a":5,"b":6,"v":0.57},{"r":220,"a":6,"b":7,"v":0.64},{"r":220,"a":7,"b":8,"v":0.71},{"r":220,"a":8,"b":10,"v":0.8},{"r":220,"a":10,"b":12,"v":0.89},{"r":220,"a":12,"b":14,"v":0.94},{"r":220,"a":14,"b":17,"v":0.97},{"r":220,"a":17,"b":20,"v":0.99},{"r":220,"a":20,"b":30,"v":1},
      {"r":225,"a":0,"b":0.5,"v":0.03},{"r":225,"a":0.5,"b":1,"v":0.08},{"r":225,"a":1,"b":1.5,"v":0.15},{"r":225,"a":1.5,"b":2,"v":0.21},{"r":225,"a":2,"b":3,"v":0.31},{"r":225,"a":3,"b":4,"v":0.44},{"r":225,"a":4,"b":5,"v":0.54},{"r":225,"a":5,"b":6,"v":0.62},{"r":225,"a":6,"b":7,"v":0.7},{"r":225,"a":7,"b":8,"v":0.77},{"r":225,"a":8,"b":10,"v":0.85},{"r":225,"a":10,"b":12,"v":0.93},{"r":225,"a":12,"b":14,"v":0.96},{"r":225,"a":14,"b":17,"v":0.99},{"r":225,"a":17,"b":30,"v":1},
      {"r":230,"a":0,"b":0.5,"v":0.03},{"r":230,"a":0.5,"b":1,"v":0.08},{"r":230,"a":1,"b":1.5,"v":0.15},{"r":230,"a":1.5,"b":2,"v":0.21},{"r":230,"a":2,"b":3,"v":0.31},{"r":230,"a":3,"b":4,"v":0.44},{"r":230,"a":4,"b":5,"v":0.54},{"r":230,"a":5,"b":6,"v":0.62},{"r":230,"a":6,"b":7,"v":0.7},{"r":230,"a":7,"b":8,"v":0.77},{"r":230,"a":8,"b":10,"v":0.85},{"r":230,"a":10,"b":12,"v":0.93},{"r":230,"a":12,"b":14,"v":0.96},{"r":230,"a":14,"b":17,"v":0.99},{"r":230,"a":17,"b":30,"v":1},
      {"r":235,"a":0,"b":0.5,"v":0.03},{"r":235,"a":0.5,"b":1,"v":0.08},{"r":235,"a":1,"b":1.5,"v":0.15},{"r":235,"a":1.5,"b":2,"v":0.21},{"r":235,"a":2,"b":3,"v":0.31},{"r":235,"a":3,"b":4,"v":0.44},{"r":235,"a":4,"b":5,"v":0.54},{"r":235,"a":5,"b":6,"v":0.62},{"r":235,"a":6,"b":7,"v":0.7},{"r":235,"a":7,"b":8,"v":0.77},{"r":235,"a":8,"b":10,"v":0.85},{"r":235,"a":10,"b":12,"v":0.93},{"r":235,"a":12,"b":14,"v":0.96},{"r":235,"a":14,"b":17,"v":0.99},{"r":235,"a":17,"b":30,"v":1},
      {"r":240,"a":0,"b":0.5,"v":0.03},{"r":240,"a":0.5,"b":1,"v":0.1},{"r":240,"a":1,"b":1.5,"v":0.17},{"r":240,"a":1.5,"b":2,"v":0.25},{"r":240,"a":2,"b":3,"v":0.36},{"r":240,"a":3,"b":4,"v":0.5},{"r":240,"a":4,"b":5,"v":0.59},{"r":240,"a":5,"b":6,"v":0.68},{"r":240,"a":6,"b":7,"v":0.76},{"r":240,"a":7,"b":8,"v":0.83},{"r":240,"a":8,"b":10,"v":0.91},{"r":240,"a":10,"b":12,"v":0.96},{"r":240,"a":12,"b":14,"v":0.98},{"r":240,"a":14,"b":17,"v":0.99},{"r":240,"a":17,"b":30,"v":1},
      {"r":245,"a":0,"b":0.5,"v":0.03},{"r":245,"a":0.5,"b":1,"v":0.08},{"r":245,"a":1,"b":1.5,"v":0.15},{"r":245,"a":1.5,"b":2,"v":0.21},{"r":245,"a":2,"b":3,"v":0.31},{"r":245,"a":3,"b":4,"v":0.44},{"r":245,"a":4,"b":5,"v":0.54},{"r":245,"a":5,"b":6,"v":0.62},{"r":245,"a":6,"b":7,"v":0.7},{"r":245,"a":7,"b":8,"v":0.77},{"r":245,"a":8,"b":10,"v":0.85},{"r":245,"a":10,"b":12,"v":0.93},{"r":245,"a":12,"b":14,"v":0.96},{"r":245,"a":14,"b":17,"v":0.99},{"r":245,"a":17,"b":30,"v":1},
      {"r":250,"a":0,"b":0.5,"v":0.03},{"r":250,"a":0.5,"b":1,"v":0.1},{"r":250,"a":1,"b":1.5,"v":0.17},{"r":250,"a":1.5,"b":2,"v":0.25},{"r":250,"a":2,"b":3,"v":0.36},{"r":250,"a":3,"b":4,"v":0.5},{"r":250,"a":4,"b":5,"v":0.59},{"r":250,"a":5,"b":6,"v":0.68},{"r":250,"a":6,"b":7,"v":0.76},{"r":250,"a":7,"b":8,"v":0.83},{"r":250,"a":8,"b":10,"v":0.91},{"r":250,"a":10,"b":12,"v":0.96},{"r":250,"a":12,"b":14,"v":0.98},{"r":250,"a":14,"b":17,"v":0.99},{"r":250,"a":17,"b":30,"v":1},
      {"r":255,"a":0,"b":0.5,"v":0.03},{"r":255,"a":0.5,"b":1,"v":0.1},{"r":255,"a":1,"b":1.5,"v":0.17},{"r":255,"a":1.5,"b":2,"v":0.25},{"r":255,"a":2,"b":3,"v":0.36},{"r":255,"a":3,"b":4,"v":0.5},{"r":255,"a":4,"b":5,"v":0.59},{"r":255,"a":5,"b":6,"v":0.68},{"r":255,"a":6,"b":7,"v":0.76},{"r":255,"a":7,"b":8,"v":0.83},{"r":255,"a":8,"b":10,"v":0.91},{"r":255,"a":10,"b":12,"v":0.96},{"r":255,"a":12,"b":14,"v":0.98},{"r":255,"a":14,"b":17,"v":0.99},{"r":255,"a":17,"b":30,"v":1},
      {"r":260,"a":0,"b":0.5,"v":0.03},{"r":260,"a":0.5,"b":1,"v":0.1},{"r":260,"a":1,"b":1.5,"v":0.17},{"r":260,"a":1.5,"b":2,"v":0.25},{"r":260,"a":2,"b":3,"v":0.36},{"r":260,"a":3,"b":4,"v":0.5},{"r":260,"a":4,"b":5,"v":0.59},{"r":260,"a":5,"b":6,"v":0.68},{"r":260,"a":6,"b":7,"v":0.76},{"r":260,"a":7,"b":8,"v":0.83},{"r":260,"a":8,"b":10,"v":0.91},{"r":260,"a":10,"b":12,"v":0.96},{"r":260,"a":12,"b":14,"v":0.98},{"r":260,"a":14,"b":17,"v":0.99},{"r":260,"a":17,"b":30,"v":1},
      {"r":265,"a":0,"b":0.5,"v":0.07},{"r":265,"a":0.5,"b":1,"v":0.23},{"r":265,"a":1,"b":1.5,"v":0.4},{"r":265,"a":1.5,"b":2,"v":0.53},{"r":265,"a":2,"b":3,"v":0.68},{"r":265,"a":3,"b":4,"v":0.84},{"r":265,"a":4,"b":5,"v":0.93},{"r":265,"a":5,"b":6,"v":0.97},{"r":265,"a":6,"b":7,"v":0.99},{"r":265,"a":7,"b":30,"v":1},
      {"r":270,"a":0,"b":0.5,"v":0.07},{"r":270,"a":0.5,"b":1,"v":0.23},{"r":270,"a":1,"b":1.5,"v":0.4},{"r":270,"a":1.5,"b":2,"v":0.53},{"r":270,"a":2,"b":3,"v":0.68},{"r":270,"a":3,"b":4,"v":0.84},{"r":270,"a":4,"b":5,"v":0.93},{"r":270,"a":5,"b":6,"v":0.97},{"r":270,"a":6,"b":7,"v":0.99},{"r":270,"a":7,"b":30,"v":1},
      {"r":275,"a":0,"b":0.5,"v":0.12},{"r":275,"a":0.5,"b":1,"v":0.38},{"r":275,"a":1,"b":1.5,"v":0.58},{"r":275,"a":1.5,"b":2,"v":0.74},{"r":275,"a":2,"b":3,"v":0.9},{"r":275,"a":3,"b":4,"v":0.98},{"r":275,"a":4,"b":30,"v":1},
      {"r":280,"a":0,"b":0.5,"v":0.25},{"r":280,"a":0.5,"b":1,"v":0.66},{"r":280,"a":1,"b":1.5,"v":0.9},{"r":280,"a":1.5,"b":2,"v":0.98},{"r":280,"a":2,"b":30,"v":1}
    ],
    "trad_braces": [
      {"g":"n","i":0,"x":30.4,"y":-0.45},{"g":"n","i":1,"x":30.95,"y":-0.17},{"g":"n","i":2,"x":30.95,"y":1.2},{"g":"n","i":3,"x":31.35,"y":1.48},{"g":"n","i":4,"x":31.35,"y":1.48},{"g":"n","i":5,"x":31.35,"y":1.48},{"g":"n","i":6,"x":30.95,"y":1.76},{"g":"n","i":7,"x":30.95,"y":3.14},{"g":"n","i":8,"x":30.4,"y":3.42},
      {"g":"d","i":0,"x":30.4,"y":3.58},{"g":"d","i":1,"x":30.95,"y":3.86},{"g":"d","i":2,"x":30.95,"y":6.25},{"g":"d","i":3,"x":31.35,"y":6.53},{"g":"d","i":4,"x":31.35,"y":6.53},{"g":"d","i":5,"x":31.35,"y":6.53},{"g":"d","i":6,"x":30.95,"y":6.81},{"g":"d","i":7,"x":30.95,"y":9.19},{"g":"d","i":8,"x":30.4,"y":9.47}
    ],
    "trad_labels": [{"t":"Normal","y":1.48},{"t":"Differential","y":6.53}],
    "sh_braces": [
      {"g":"n","i":0,"x":30.4,"y":1},{"g":"n","i":1,"x":30.95,"y":9},{"g":"n","i":2,"x":30.95,"y":17.5},{"g":"n","i":3,"x":31.35,"y":25.5},{"g":"n","i":4,"x":31.35,"y":25.5},{"g":"n","i":5,"x":31.35,"y":25.5},{"g":"n","i":6,"x":30.95,"y":33.5},{"g":"n","i":7,"x":30.95,"y":42},{"g":"n","i":8,"x":30.4,"y":50},
      {"g":"d","i":0,"x":30.4,"y":52.5},{"g":"d","i":1,"x":30.95,"y":60.5},{"g":"d","i":2,"x":30.95,"y":160.25},{"g":"d","i":3,"x":31.35,"y":168.25},{"g":"d","i":4,"x":31.35,"y":168.25},{"g":"d","i":5,"x":31.35,"y":168.25},{"g":"d","i":6,"x":30.95,"y":176.25},{"g":"d","i":7,"x":30.95,"y":276},{"g":"d","i":8,"x":30.4,"y":284}
    ],
    "sh_labels": [{"t":"Normal","y":25.5},{"t":"Differential","y":168.25}]
  },
  "vconcat": [
    {
      "width": 569, "height": 568,
      "title": "Traditional MASS",
      "layer": [
        {
          "data": {"name": "trad"},
          "mark": {"type": "rect", "strokeWidth": 0.8},
          "encoding": {
            "x": {"field": "a", "type": "quantitative", "scale": {"domain": [0, 30], "nice": false, "zero": false},
                  "axis": {"values": [0, 5, 10, 15, 20, 25, 30], "format": "d", "labelFlush": false, "labelPadding": 13, "title": "Propagation distance [km]", "titleFont": "DejaVu Serif", "titlePadding": 6}},
            "x2": {"field": "b"},
            "y": {"field": "r", "type": "ordinal", "scale": {"paddingInner": 0, "paddingOuter": 0},
                  "axis": {"values": [0, 2, 4, 6, 8], "title": "Spatial pattern", "titleFont": "DejaVu Serif", "labelAngle": 0, "labelPadding": 23, "titlePadding": 8}},
            "color": {"field": "v", "type": "quantitative",
                      "scale": {"type": "linear", "domain": [0, 0.125, 0.25, 0.375, 0.5, 0.625, 0.75, 0.875, 1], "range": ["#8000ff", "#4062fa", "#00b4ec", "#40ecd4", "#80ffb4", "#bfec8e", "#ffb462", "#ff6232", "#ff0000"], "interpolate": "rgb", "clamp": true},
                      "legend": {"title": null, "orient": "bottom", "direction": "horizontal", "gradientLength": 562, "gradientThickness": 29, "gradientStrokeColor": "black", "gradientStrokeWidth": 3, "values": [0, 0.25, 0.5, 0.75, 1], "format": ".2f", "labelFont": "DejaVu Serif", "labelFontSize": 36, "labelColor": "black", "labelOverlap": false, "labelOffset": 6, "offset": 26, "padding": 0,
                                 "encode": {"labels": {"update": {"align": {"value": "center"}}}}}},
            "stroke": {"field": "v", "type": "quantitative",
                       "scale": {"type": "linear", "domain": [0, 0.125, 0.25, 0.375, 0.5, 0.625, 0.75, 0.875, 1], "range": ["#8000ff", "#4062fa", "#00b4ec", "#40ecd4", "#80ffb4", "#bfec8e", "#ffb462", "#ff6232", "#ff0000"], "interpolate": "rgb", "clamp": true},
                       "legend": null}
          }
        },
        {
          "data": {"name": "trad_braces"},
          "mark": {"type": "line", "interpolate": "basis", "clip": false, "color": "black", "strokeWidth": 3.5},
          "encoding": {
            "x": {"field": "x", "type": "quantitative", "scale": {"domain": [0, 30]},
                  "axis": {"values": [0, 5, 10, 15, 20, 25, 30], "format": "d", "labelFlush": false, "labelPadding": 13, "title": "Propagation distance [km]", "titleFont": "DejaVu Serif", "titlePadding": 6}},
            "y": {"field": "y", "type": "quantitative", "scale": {"domain": [-0.5, 9.5], "reverse": true, "nice": false, "zero": false}, "axis": null},
            "detail": {"field": "g"},
            "order": {"field": "i", "type": "quantitative"}
          }
        },
        {
          "data": {"name": "trad_labels"},
          "mark": {"type": "text", "angle": 90, "clip": false, "font": "DejaVu Serif", "fontSize": 26, "align": "center", "baseline": "middle", "color": "black"},
          "encoding": {
            "x": {"datum": 32.3, "type": "quantitative", "scale": {"domain": [0, 30]},
                  "axis": {"values": [0, 5, 10, 15, 20, 25, 30], "format": "d", "labelFlush": false, "labelPadding": 13, "title": "Propagation distance [km]", "titleFont": "DejaVu Serif", "titlePadding": 6}},
            "y": {"field": "y", "type": "quantitative", "scale": {"domain": [-0.5, 9.5], "reverse": true, "nice": false, "zero": false}, "axis": null},
            "text": {"field": "t"}
          }
        }
      ],
      "resolve": {"scale": {"y": "independent"}}
    },
    {
      "width": 569, "height": 568,
      "title": "Shack-Hartmann MASS",
      "layer": [
        {
          "data": {"name": "sh"},
          "mark": {"type": "rect", "strokeWidth": 0.8},
          "encoding": {
            "x": {"field": "a", "type": "quantitative", "scale": {"domain": [0, 30], "nice": false, "zero": false},
                  "axis": {"values": [0, 5, 10, 15, 20, 25, 30], "format": "d", "labelFlush": false, "labelPadding": 13, "title": "Propagation distance [km]", "titleFont": "DejaVu Serif", "titlePadding": 6}},
            "x2": {"field": "b"},
            "y": {"field": "r", "type": "ordinal", "scale": {"paddingInner": 0, "paddingOuter": 0},
                  "axis": {"values": [0, 50, 100, 150, 200, 250], "bandPosition": 0, "title": "Spatial pattern", "titleFont": "DejaVu Serif", "labelAngle": 0, "labelPadding": 23, "titlePadding": 8}},
            "color": {"field": "v", "type": "quantitative",
                      "scale": {"type": "linear", "domain": [0, 0.125, 0.25, 0.375, 0.5, 0.625, 0.75, 0.875, 1], "range": ["#8000ff", "#4062fa", "#00b4ec", "#40ecd4", "#80ffb4", "#bfec8e", "#ffb462", "#ff6232", "#ff0000"], "interpolate": "rgb", "clamp": true},
                      "legend": {"title": null, "orient": "bottom", "direction": "horizontal", "gradientLength": 562, "gradientThickness": 29, "gradientStrokeColor": "black", "gradientStrokeWidth": 3, "values": [0, 0.25, 0.5, 0.75, 1], "format": ".2f", "labelFont": "DejaVu Serif", "labelFontSize": 36, "labelColor": "black", "labelOverlap": false, "labelOffset": 6, "offset": 21, "padding": 0,
                                 "encode": {"labels": {"update": {"align": {"value": "center"}}}}}},
            "stroke": {"field": "v", "type": "quantitative",
                       "scale": {"type": "linear", "domain": [0, 0.125, 0.25, 0.375, 0.5, 0.625, 0.75, 0.875, 1], "range": ["#8000ff", "#4062fa", "#00b4ec", "#40ecd4", "#80ffb4", "#bfec8e", "#ffb462", "#ff6232", "#ff0000"], "interpolate": "rgb", "clamp": true},
                       "legend": null}
          }
        },
        {
          "data": {"name": "sh_braces"},
          "mark": {"type": "line", "interpolate": "basis", "clip": false, "color": "black", "strokeWidth": 3.5},
          "encoding": {
            "x": {"field": "x", "type": "quantitative", "scale": {"domain": [0, 30]},
                  "axis": {"values": [0, 5, 10, 15, 20, 25, 30], "format": "d", "labelFlush": false, "labelPadding": 13, "title": "Propagation distance [km]", "titleFont": "DejaVu Serif", "titlePadding": 6}},
            "y": {"field": "y", "type": "quantitative", "scale": {"domain": [0, 285], "reverse": true, "nice": false, "zero": false}, "axis": null},
            "detail": {"field": "g"},
            "order": {"field": "i", "type": "quantitative"}
          }
        },
        {
          "data": {"name": "sh_labels"},
          "mark": {"type": "text", "angle": 90, "clip": false, "font": "DejaVu Serif", "fontSize": 26, "align": "center", "baseline": "middle", "color": "black"},
          "encoding": {
            "x": {"datum": 32.3, "type": "quantitative", "scale": {"domain": [0, 30]},
                  "axis": {"values": [0, 5, 10, 15, 20, 25, 30], "format": "d", "labelFlush": false, "labelPadding": 13, "title": "Propagation distance [km]", "titleFont": "DejaVu Serif", "titlePadding": 6}},
            "y": {"field": "y", "type": "quantitative", "scale": {"domain": [0, 285], "reverse": true, "nice": false, "zero": false}, "axis": null},
            "text": {"field": "t"}
          }
        }
      ],
      "resolve": {"scale": {"y": "independent"}}
    }
  ],
  "resolve": {"scale": {"color": "independent"}, "legend": {"color": "independent"}}
}
